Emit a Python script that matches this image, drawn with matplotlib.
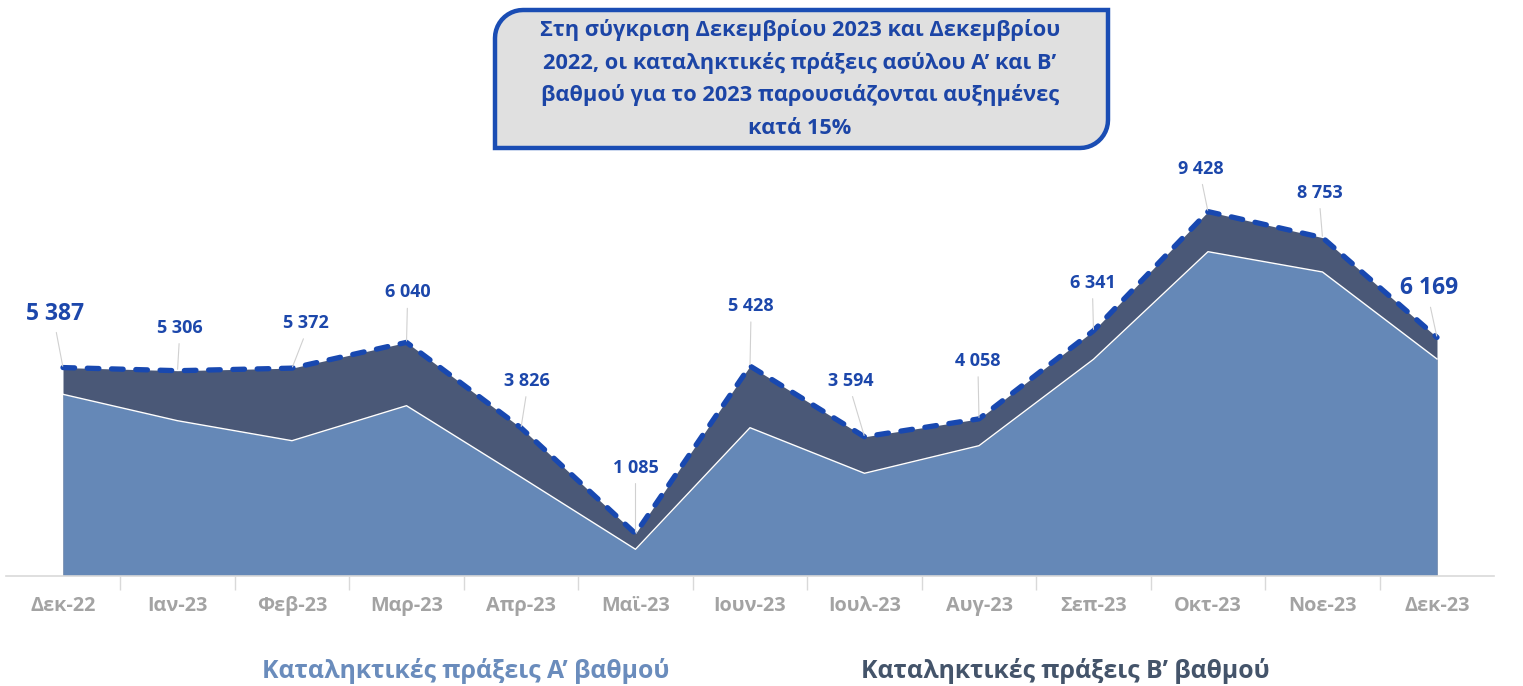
import matplotlib
matplotlib.use("Agg")
import matplotlib.pyplot as plt
from matplotlib.path import Path
from matplotlib.patches import PathPatch
import numpy as np

# === Data ===
months = ['Δεκ-22', 'Ιαν-23', 'Φεβ-23', 'Μαρ-23', 'Απρ-23', 'Μαϊ-23', 'Ιουν-23',
          'Ιουλ-23', 'Αυγ-23', 'Σεπ-23', 'Οκτ-23', 'Νοε-23', 'Δεκ-23']
first_degree = [4694, 4010, 3492, 4399, 2550, 679, 3829, 2648, 3363, 5601, 8389, 7863, 5609]
second_degree = [693, 1296, 1880, 1641, 1276, 406, 1599, 946, 695, 740, 1039, 890, 560]

title_lines = ['Στη σύγκριση Δεκεμβρίου 2023 και Δεκεμβρίου',
               '2022, οι καταληκτικές πράξεις ασύλου Α’ και Β’',
               'βαθμού για το 2023 παρουσιάζονται αυξημένες',
               'κατά 15%']
legend_a = 'Καταληκτικές πράξεις Α’ βαθμού'
legend_b = 'Καταληκτικές πράξεις Β’ βαθμού'

# === Style ===
plt.rcParams['font.family'] = ['Open Sans', 'DejaVu Sans']
W, H = 1523, 686
col_a = '#6588b7'
col_b = '#4a5877'
col_line = '#1848b0'
col_label = '#1c47ab'

x = np.arange(len(months))
a = np.array(first_degree)
total = a + np.array(second_degree)

fig = plt.figure(figsize=(W / 100, H / 100), dpi=100)
ax = fig.add_axes([5.75 / W, (H - 575.5) / H, 1488.5 / W, 415.5 / H])
ax.set_xlim(-0.5, 12.5)
ax.set_ylim(0, 415.5 / 0.0386)

ax.fill_between(x, 0, total, color=col_b, linewidth=0)
ax.fill_between(x, 0, a, color=col_a, linewidth=0)
ax.plot(x, a, color='white', linewidth=1)
ax.plot(x, total, color=col_line, linewidth=3.8, linestyle=(0, (2.2, 2.4)),
        dash_capstyle='round', solid_joinstyle='round')

# axis
for s in ['top', 'left', 'right']:
    ax.spines[s].set_visible(False)
ax.spines['bottom'].set_color('#d9d9d9')
ax.spines['bottom'].set_linewidth(1.2)
ax.set_yticks([])
ax.set_xticks(x)
ax.set_xticklabels(months, fontsize=14.3, fontweight='bold', color='#a3a3a3')
ax.tick_params(axis='x', which='major', length=0, pad=15)
ax.set_xticks(x[:-1] + 0.5, minor=True)
ax.tick_params(axis='x', which='minor', length=10, color='#d9d9d9', width=1)

# data labels (offsets in pixels)
offsets = [(-8, 54), (2, 43), (14, 45), (1, 50), (6, 47), (0, 66), (1, 60),
           (-14, 56), (-1, 58), (-1, 48), (-7, 43), (-3, 45), (-8, 49)]
for i, v in enumerate(total):
    big = i in (0, len(total) - 1)
    dx, dy = offsets[i]
    ax.annotate(f"{v:,}".replace(",", " "), xy=(x[i], v),
                xytext=(dx * 0.72, dy * 0.72), textcoords='offset points',
                ha='center', va='center', fontsize=16.5 if big else 13,
                fontweight='bold', color=col_label,
                arrowprops=dict(arrowstyle='-', color='#d0d0d0', lw=0.8,
                                relpos=(0.5, 0), shrinkA=3, shrinkB=1))

# === Title box ===
x0, x1 = 495 / W, 1108 / W
yt, yb = 1 - 10 / H, 1 - 148 / H
rx, ry = 28 / W, 28 / H
t = np.linspace(np.pi, np.pi / 2, 12)
arc1 = [(x0 + rx + rx * np.cos(a_), yt - ry + ry * np.sin(a_)) for a_ in t]
t2 = np.linspace(0, -np.pi / 2, 12)
arc2 = [(x1 - rx + rx * np.cos(a_), yb + ry + ry * np.sin(a_)) for a_ in t2]
verts = [(x0, yb)] + arc1 + [(x1, yt)] + arc2 + [(x0, yb)]
codes = [Path.MOVETO] + [Path.LINETO] * (len(verts) - 2) + [Path.CLOSEPOLY]
box = PathPatch(Path(verts, codes), transform=fig.transFigure, facecolor='#e0e0e0',
                edgecolor='#1a4db4', linewidth=3.2, zorder=5)
fig.add_artist(box)
for j, line in enumerate(title_lines):
    fig.text(800 / W, 1 - (30 + j * 32.7) / H, line, ha='center', va='center',
             fontsize=15.7, fontweight='bold', color='#1c45a6', zorder=6)

# === Legend ===
fig.text(466 / W, 1 - 671 / H, legend_a, ha='center', va='center',
         fontsize=17.8, fontweight='bold', color='#6a8cbc')
fig.text(1065 / W, 1 - 671 / H, legend_b, ha='center', va='center',
         fontsize=17.8, fontweight='bold', color='#44546a')

fig.savefig('out.png', dpi=100)
